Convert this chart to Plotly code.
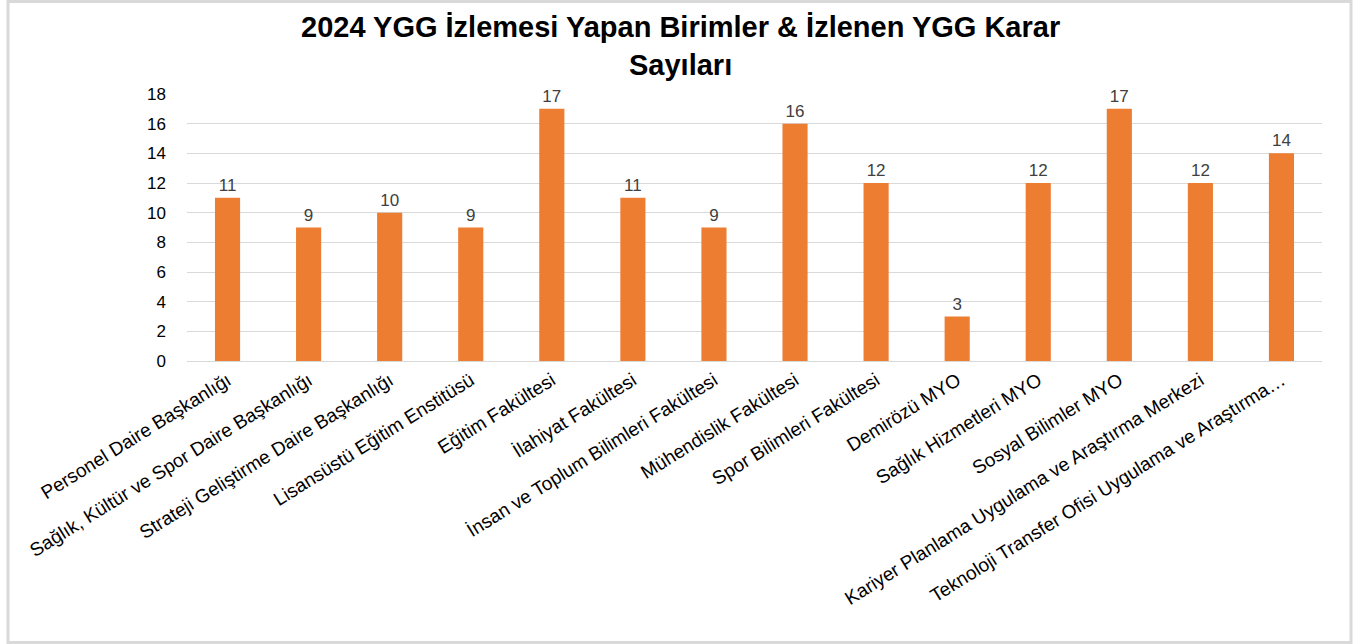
import plotly.graph_objects as go

categories = [
    "Personel Daire Başkanlığı",
    "Sağlık, Kültür ve Spor Daire Başkanlığı",
    "Strateji Geliştirme Daire Başkanlığı",
    "Lisansüstü Eğitim Enstitüsü",
    "Eğitim Fakültesi",
    "İlahiyat Fakültesi",
    "İnsan ve Toplum Bilimleri Fakültesi",
    "Mühendislik Fakültesi",
    "Spor Bilimleri Fakültesi",
    "Demirözü MYO",
    "Sağlık Hizmetleri MYO",
    "Sosyal Bilimler MYO",
    "Kariyer Planlama Uygulama ve Araştırma Merkezi",
    "Teknoloji Transfer Ofisi Uygulama ve Araştırma…",
]
values = [11, 9, 10, 9, 17, 11, 9, 16, 12, 3, 12, 17, 12, 14]
y_ticks = [0, 2, 4, 6, 8, 10, 12, 14, 16, 18]
title_text = "<b>2024 YGG İzlemesi Yapan Birimler & İzlenen YGG Karar<br>Sayıları</b>"

FONT = "Liberation Sans, Arial, sans-serif"

W, H = 1360, 644
L, R, T, B = 187, 38, 94, 283
PW, PH = W - L - R, H - T - B


def px_x(p):
    return (p - L) / PW


def px_y(p):
    return (H - B - p) / PH


fig = go.Figure(
    go.Bar(
        x=categories,
        y=values,
        marker=dict(color="#ED7D31", line=dict(width=0)),
        text=values,
        textposition="outside",
        textfont=dict(family=FONT, size=17, color="#404040"),
        cliponaxis=False,
    )
)

fig.update_layout(
    width=W,
    height=H,
    paper_bgcolor="white",
    plot_bgcolor="white",
    margin=dict(l=L, r=R, t=T, b=B),
    bargap=0.69,
    showlegend=False,
    font=dict(family=FONT, color="#000000"),
)

fig.add_annotation(
    text=title_text,
    xref="paper", yref="paper",
    x=px_x(680), y=px_y(9),
    xanchor="center", yanchor="top",
    showarrow=False,
    align="center",
    font=dict(family=FONT, size=29, color="#000000"),
)

fig.update_xaxes(
    tickangle=-32,
    tickfont=dict(family=FONT, size=19, color="#000000"),
    showline=True,
    linecolor="#d9d9d9",
    linewidth=1,
    ticks="",
    showgrid=False,
    automargin=False,
)
fig.update_yaxes(
    range=[0, 18],
    tickvals=y_ticks,
    tickfont=dict(family=FONT, size=17, color="#000000"),
    showgrid=True,
    gridcolor="#d9d9d9",
    gridwidth=1,
    zeroline=False,
    ticks="",
    ticklabelstandoff=20,
    automargin=False,
)

fig.add_shape(
    type="rect", xref="paper", yref="paper",
    x0=px_x(8), x1=px_x(1351), y0=px_y(642.5), y1=px_y(1.5),
    line=dict(color="#d9d9d9", width=3), fillcolor="rgba(0,0,0,0)", layer="below",
)

fig.write_html(
    "out.html",
    config={"displayModeBar": False},
    post_script="document.body.style.margin='0';",
)
